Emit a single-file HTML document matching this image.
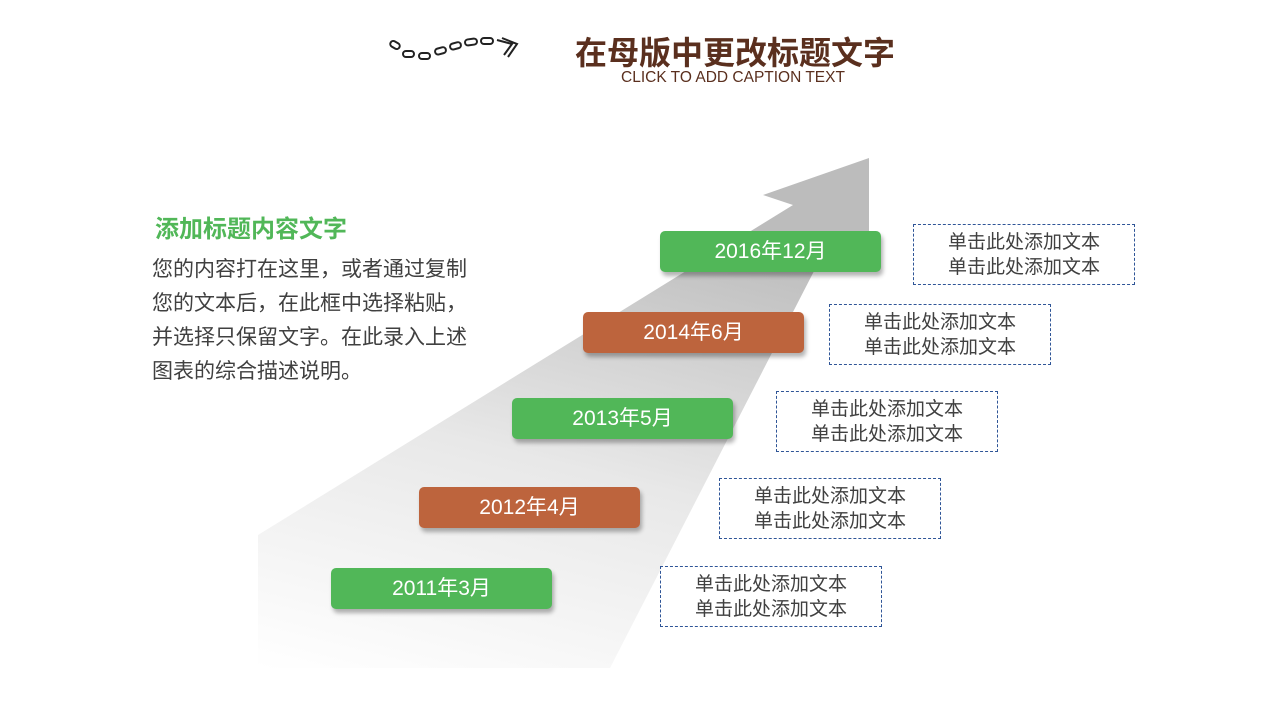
<!DOCTYPE html>
<html><head><meta charset="utf-8"><style>
body{margin:0;width:1280px;height:720px;background:#fff;position:relative;overflow:hidden;font-family:"Liberation Sans","Noto Sans CJK SC",sans-serif}
.a{position:absolute}
.d{position:absolute;width:221px;height:41px;border-radius:5px;color:#fff;font-size:21px;text-align:center;line-height:41px;box-shadow:2px 4px 4px rgba(0,0,0,.3)}
.g{background:#51b758}.o{background:#bd643d}
.t{position:absolute;width:222px;border:1px dashed #2f5597;color:#404040;font-size:19px;text-align:center;line-height:25px;padding-top:5px;box-sizing:border-box;height:61px}
</style></head><body>
<svg class="a" style="left:0;top:0" width="1280" height="720">
<defs><linearGradient id="gr" x1="0" y1="1" x2="0.3" y2="0"><stop offset="0" stop-color="#fff"/><stop offset="0.5" stop-color="#e8e8e8"/><stop offset="1" stop-color="#bcbcbc"/></linearGradient></defs>
<polygon points="258,535 793,205 763,195 869,158 869,235 830,240 610,668 258,668" fill="url(#gr)"/>
<g fill="none" stroke="#222" stroke-width="2">
<rect x="390" y="42" width="10" height="6" rx="3" transform="rotate(30 395 45)"/>
<rect x="403" y="51" width="11" height="6" rx="3"/>
<rect x="419" y="53" width="11" height="6" rx="3"/>
<rect x="435" y="48" width="11" height="6" rx="3" transform="rotate(-15 440 51)"/>
<rect x="450" y="43" width="11" height="6" rx="3" transform="rotate(-15 455 46)"/>
<rect x="465" y="39" width="12" height="6" rx="3" transform="rotate(-8 471 42)"/>
<rect x="481" y="38" width="12" height="6" rx="3"/>
<path d="M497 40 L512 44 L504 55 M502 38 L517 44 L508 57"/>
</g>
</svg>
<div class="a" style="left:575px;top:28px;font-size:32px;font-weight:bold;color:#5a2f1e">在母版中更改标题文字</div>
<div class="a" style="left:621px;top:69px;font-size:15.5px;color:#5a2f1e">CLICK TO ADD CAPTION TEXT</div>
<div class="a" style="left:155px;top:209px;font-size:24px;font-weight:bold;color:#51b758">添加标题内容文字</div>
<div class="a" style="left:152px;top:253px;font-size:21px;color:#404040;line-height:34px;width:360px">您的内容打在这里，或者通过复制<br>您的文本后，在此框中选择粘贴，<br>并选择只保留文字。在此录入上述<br>图表的综合描述说明。</div>
<div class="d g" style="left:660px;top:231px">2016年12月</div>
<div class="d o" style="left:583px;top:312px">2014年6月</div>
<div class="d g" style="left:512px;top:398px">2013年5月</div>
<div class="d o" style="left:419px;top:487px">2012年4月</div>
<div class="d g" style="left:331px;top:568px">2011年3月</div>
<div class="t" style="left:913px;top:224px">单击此处添加文本<br>单击此处添加文本</div>
<div class="t" style="left:829px;top:304px">单击此处添加文本<br>单击此处添加文本</div>
<div class="t" style="left:776px;top:391px">单击此处添加文本<br>单击此处添加文本</div>
<div class="t" style="left:719px;top:478px">单击此处添加文本<br>单击此处添加文本</div>
<div class="t" style="left:660px;top:566px">单击此处添加文本<br>单击此处添加文本</div>
</body></html>
